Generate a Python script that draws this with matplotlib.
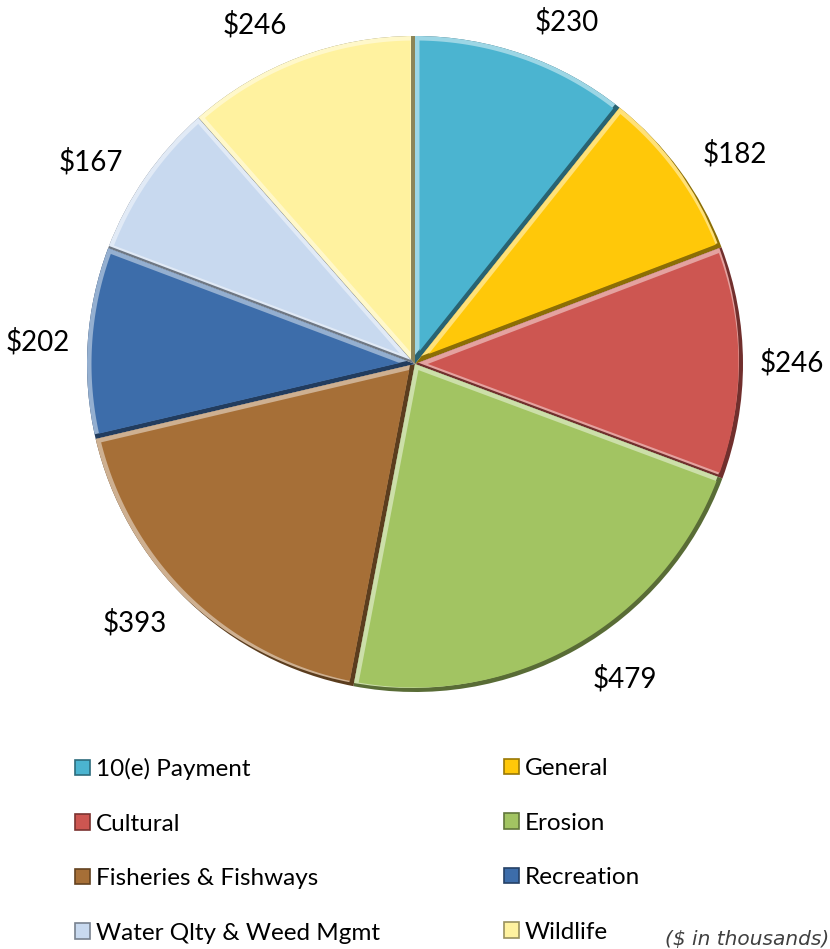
import numpy as np
import matplotlib.pyplot as plt
from matplotlib.patches import Wedge, Polygon, Rectangle
from matplotlib.colors import to_rgb

categories = ["10(e) Payment", "General", "Cultural", "Erosion",
              "Fisheries & Fishways", "Recreation", "Water Qlty & Weed Mgmt",
              "Wildlife"]
amounts = [230, 182, 246, 479, 393, 202, 167, 246]  # $ thousands
colors = ["#4BB4D0", "#FFC809", "#CD5651", "#A2C462",
          "#A66F37", "#3D6DAA", "#C8D9EF", "#FFF29F"]

FONT = "Lato"
BEVEL = 4.0


def shade(c, f):
    c = np.array(to_rgb(c))
    if f > 0:
        return tuple(c + (1 - c) * f)
    return tuple(c * (1 + f))


fig = plt.figure(figsize=(8.30, 9.49), dpi=100)
ax = fig.add_axes([0, 0, 1, 1])

wedges, texts = ax.pie(amounts, labels=[f"${v}" for v in amounts],
                       colors=colors, startangle=90, counterclock=False,
                       radius=328, center=(415, 585),
                       textprops=dict(fontsize=20, family=FONT, zorder=6))
ax.set_xlim(0, 830)
ax.set_ylim(0, 949)
ax.set_aspect("equal")
ax.axis("off")

# bevel: dark base, light copy shifted up-left, flat eroded face on top
for w, t, c in zip(wedges, texts, colors):
    t1, t2 = w.theta1, w.theta2
    cx, cy = w.center
    r = w.r
    half = np.radians(t2 - t1) / 2
    mid = np.radians(t1 + t2) / 2

    # outside-end labels: a bit further out near the top and bottom
    dist = r * (1.05 + 0.06 * abs(np.sin(mid)))
    t.set_position((cx + dist * np.cos(mid), cy + dist * np.sin(mid)))
    t.set_ha("left" if np.cos(mid) >= 0 else "right")

    w.set_facecolor(shade(c, -0.45))
    w.set_edgecolor("none")

    hi = Wedge((cx - BEVEL, cy + BEVEL), r, t1, t2,
               facecolor=shade(c, 0.45), edgecolor="none", zorder=2)
    ax.add_patch(hi)
    hi.set_clip_path(w)

    e = BEVEL + 0.5
    apex = (cx + np.cos(mid) * e / np.sin(half),
            cy + np.sin(mid) * e / np.sin(half))
    r2 = r - e
    d = np.degrees(np.arcsin(e / r2))
    th = np.radians(np.linspace(t1 + d, t2 - d, 80))
    pts = [apex] + list(zip(cx + r2 * np.cos(th), cy + r2 * np.sin(th)))
    ax.add_patch(Polygon(pts, closed=True, facecolor=c, edgecolor="none",
                         zorder=3))

handles = [Rectangle((0, 0), 1, 1, facecolor=c, edgecolor=shade(c, -0.4),
                     linewidth=1.2) for c in colors]

leg_kw = dict(loc="upper left", bbox_transform=fig.transFigure,
              frameon=False, prop=dict(family=FONT, size=17.5),
              handlelength=0.6, handleheight=0.6, handletextpad=0.25,
              labelspacing=1.38, borderpad=0, borderaxespad=0)
leg1 = ax.legend(handles[0::2], categories[0::2],
                 bbox_to_anchor=(75 / 830, 1 - 758 / 949), **leg_kw)
ax.add_artist(leg1)
ax.legend(handles[1::2], categories[1::2],
          bbox_to_anchor=(504 / 830, 1 - 758 / 949), **leg_kw)

fig.text(829 / 830, 1 - 939 / 949, "($ in thousands)", ha="right",
         va="center", fontsize=14.5, style="italic", color="#404040",
         family="DejaVu Sans")

fig.savefig("out.png", dpi=100)
